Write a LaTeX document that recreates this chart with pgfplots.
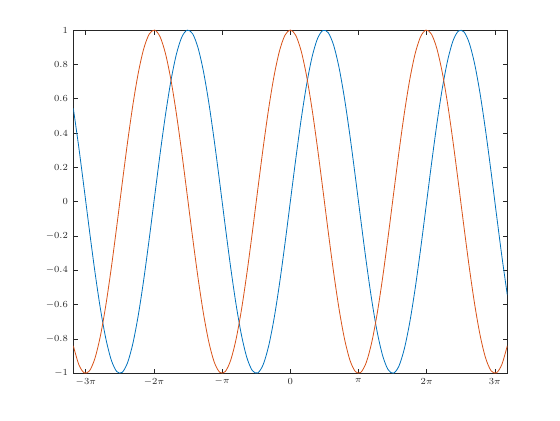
\documentclass[border=0pt]{standalone}
\usepackage{pgfplots}
\pgfplotsset{compat=1.18}
\usepackage{pgfplotstable}

\definecolor{mblue}{rgb}{0,0.447,0.741}
\definecolor{morange}{rgb}{0.85,0.325,0.098}
\definecolor{axgray}{rgb}{0.15,0.15,0.15}

% x, sin(x), cos(x)
\pgfplotstableread{
x      s          c
-10    0.544021  -0.839072
-9.75  0.319519  -0.947580
-9.5   0.075151  -0.997172
-9.25 -0.174327  -0.984688
-9    -0.412118  -0.911130
-8.75 -0.624723  -0.780846
-8.5  -0.798487  -0.602012
-8.25 -0.922604  -0.385815
-8    -0.989358  -0.145500
-7.75 -0.994599   0.103804
-7.5  -0.938000   0.346635
-7.25 -0.823081   0.567924
-7    -0.656987   0.753902
-6.75 -0.450044   0.893001
-6.5  -0.215120   0.976588
-6.25  0.033179   0.999449
-6     0.279415   0.960170
-5.75  0.508279   0.861192
-5.5   0.705540   0.708670
-5.25  0.858934   0.512085
-5     0.958924   0.283662
-4.75  0.999293   0.037602
-4.5   0.977530  -0.210796
-4.25  0.894989  -0.446087
-4     0.756802  -0.653644
-3.75  0.571561  -0.820559
-3.5   0.350783  -0.936457
-3.25  0.108195  -0.994130
-3    -0.141120  -0.989992
-2.75 -0.381661  -0.924302
-2.5  -0.598472  -0.801144
-2.25 -0.778073  -0.628174
-2    -0.909297  -0.416147
-1.75 -0.983986  -0.178246
-1.5  -0.997495   0.070737
-1.25 -0.948985   0.315322
-1    -0.841471   0.540302
-0.75 -0.681639   0.731689
-0.5  -0.479426   0.877583
-0.25 -0.247404   0.968912
0      0.000000   1.000000
0.25   0.247404   0.968912
0.5    0.479426   0.877583
0.75   0.681639   0.731689
1      0.841471   0.540302
1.25   0.948985   0.315322
1.5    0.997495   0.070737
1.75   0.983986  -0.178246
2      0.909297  -0.416147
2.25   0.778073  -0.628174
2.5    0.598472  -0.801144
2.75   0.381661  -0.924302
3      0.141120  -0.989992
3.25  -0.108195  -0.994130
3.5   -0.350783  -0.936457
3.75  -0.571561  -0.820559
4     -0.756802  -0.653644
4.25  -0.894989  -0.446087
4.5   -0.977530  -0.210796
4.75  -0.999293   0.037602
5     -0.958924   0.283662
5.25  -0.858934   0.512085
5.5   -0.705540   0.708670
5.75  -0.508279   0.861192
6     -0.279415   0.960170
6.25  -0.033179   0.999449
6.5    0.215120   0.976588
6.75   0.450044   0.893001
7      0.656987   0.753902
7.25   0.823081   0.567924
7.5    0.938000   0.346635
7.75   0.994599   0.103804
8      0.989358  -0.145500
8.25   0.922604  -0.385815
8.5    0.798487  -0.602012
8.75   0.624723  -0.780846
9      0.412118  -0.911130
9.25   0.174327  -0.984688
9.5   -0.075151  -0.997172
9.75  -0.319519  -0.947580
10    -0.544021  -0.839072
}\sincos

\begin{document}
\begin{tikzpicture}
% page frame, 560x420 px at 0.75pt per px
\path[use as bounding box] (-54.98pt,-35pt) rectangle (365pt,280pt);
\begin{axis}[
    scale only axis,
    width=325.5pt,
    height=257.5pt,
    xmin=-10, xmax=10,
    ymin=-1, ymax=1,
    xtick={-9.424778,-6.283185,-3.141593,0,3.141593,6.283185,9.424778},
    xticklabels={$-3\pi$,$-2\pi$,$-\pi$,$0$,$\pi$,$2\pi$,$3\pi$},
    ytick={-1,-0.8,-0.6,-0.4,-0.2,0,0.2,0.4,0.6,0.8,1},
    tick align=inside,
    major tick length=3.4pt,
    axis line style={axgray, line width=0.5pt},
    every tick/.style={axgray, line width=0.5pt},
    tick label style={font=\fontsize{7.5}{9}\selectfont, color=axgray},
    yticklabel style={xshift=-0.5pt},
]
\addplot[mblue, line width=0.6pt, smooth] table[x=x, y=s] {\sincos};
\addplot[morange, line width=0.6pt, smooth] table[x=x, y=c] {\sincos};
\end{axis}
\end{tikzpicture}
\end{document}
